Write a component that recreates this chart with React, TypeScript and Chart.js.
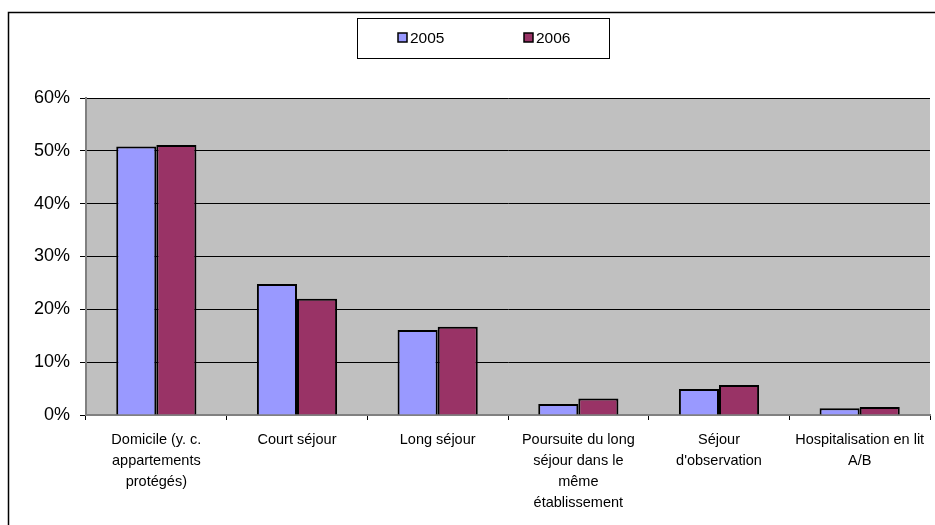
import React, { useEffect, useRef } from "react";
import { Chart, registerables } from "chart.js";

Chart.register(...registerables);

const categories: string[][] = [
  ["Domicile (y. c.", "appartements", "protégés)"],
  ["Court séjour"],
  ["Long séjour"],
  ["Poursuite du long", "séjour dans le", "même", "établissement"],
  ["Séjour", "d'observation"],
  ["Hospitalisation en lit", "A/B"],
];

const seriesNames = ["2005", "2006"];
const values2005 = [50.8, 24.8, 16.1, 2.1, 4.9, 1.3];
const values2006 = [51.1, 22.0, 16.7, 3.1, 5.7, 1.5];
const colors = ["#9999FF", "#993366"];

const yMax = 60;
const yStep = 10;

const FONT = "'Liberation Sans', Arial, sans-serif";

const decorPlugin = {
  id: "decor",
  beforeDraw(chart: any) {
    const ctx = chart.ctx;
    const { left, right, top, bottom } = chart.chartArea;
    ctx.save();
    ctx.fillStyle = "#ffffff";
    ctx.fillRect(0, 0, chart.width, chart.height);
    // outer frame
    ctx.strokeStyle = "#000000";
    ctx.lineWidth = 1.5;
    ctx.strokeRect(8.5, 12.5, chart.width + 20, chart.height + 20);
    // plot background
    ctx.fillStyle = "#C0C0C0";
    ctx.fillRect(left, top, right - left, bottom - top);
    ctx.restore();
  },
  afterDraw(chart: any) {
    const ctx = chart.ctx;
    ctx.save();
    // legend frame
    ctx.strokeStyle = "#000000";
    ctx.lineWidth = 1;
    ctx.strokeRect(357.5, 18.5, 252, 40);
    const items = [398, 524];
    ctx.font = "15.5px " + FONT;
    ctx.textBaseline = "middle";
    ctx.textAlign = "left";
    chart.data.datasets.forEach((ds: any, i: number) => {
      const x = items[i];
      ctx.fillStyle = ds.backgroundColor;
      ctx.fillRect(x, 33, 9, 9);
      ctx.strokeStyle = "#000";
      ctx.lineWidth = 1.5;
      ctx.strokeRect(x, 33, 9, 9);
      ctx.fillStyle = "#000";
      ctx.fillText(ds.label, x + 12, 38.5);
    });
    ctx.restore();
  },
};

export default function App() {
  const ref = useRef<HTMLCanvasElement | null>(null);
  useEffect(() => {
    if (!ref.current) return;
    const chart = new Chart(ref.current, {
      type: "bar",
      data: {
        labels: categories,
        datasets: [
          {
            label: seriesNames[0],
            data: values2005,
            backgroundColor: colors[0],
            borderColor: "#000000",
            borderWidth: 2,
            categoryPercentage: 0.57,
            barPercentage: 1,
          },
          {
            label: seriesNames[1],
            data: values2006,
            backgroundColor: colors[1],
            borderColor: "#000000",
            borderWidth: 2,
            categoryPercentage: 0.57,
            barPercentage: 1,
          },
        ],
      },
      options: {
        responsive: false,
        animation: false,
        devicePixelRatio: 1,
        layout: { padding: { left: 8, right: 5, top: 98, bottom: 0 } },
        plugins: {
          legend: { display: false },
          tooltip: { enabled: false },
        },
        scales: {
          x: {
            afterFit(scale: any) {
              scale.height = 110;
            },
            grid: {
              offset: true,
              drawOnChartArea: false,
              drawTicks: true,
              tickLength: 5,
              color: "#000000",
            },
            border: { color: "#808080", width: 2 },
            ticks: {
              color: "#000000",
              font: { family: FONT, size: 14.5, lineHeight: 1.45 },
              padding: 9,
              maxRotation: 0,
              autoSkip: false,
            },
          },
          y: {
            min: 0,
            max: yMax,
            afterFit(scale: any) {
              scale.width = 78;
            },
            grid: {
              color: "#000000",
              lineWidth: 1,
              tickLength: 6,
            },
            border: { color: "#808080", width: 2 },
            ticks: {
              stepSize: yStep,
              color: "#000000",
              font: { family: FONT, size: 18 },
              padding: 10,
              callback: (v: any) => v + "%",
            },
          },
        },
      },
      plugins: [decorPlugin],
    });
    return () => chart.destroy();
  }, []);
  return (
    <canvas
      ref={ref}
      width={935}
      height={525}
      style={{ position: "fixed", left: 0, top: 0, width: 935, height: 525 }}
    />
  );
}
